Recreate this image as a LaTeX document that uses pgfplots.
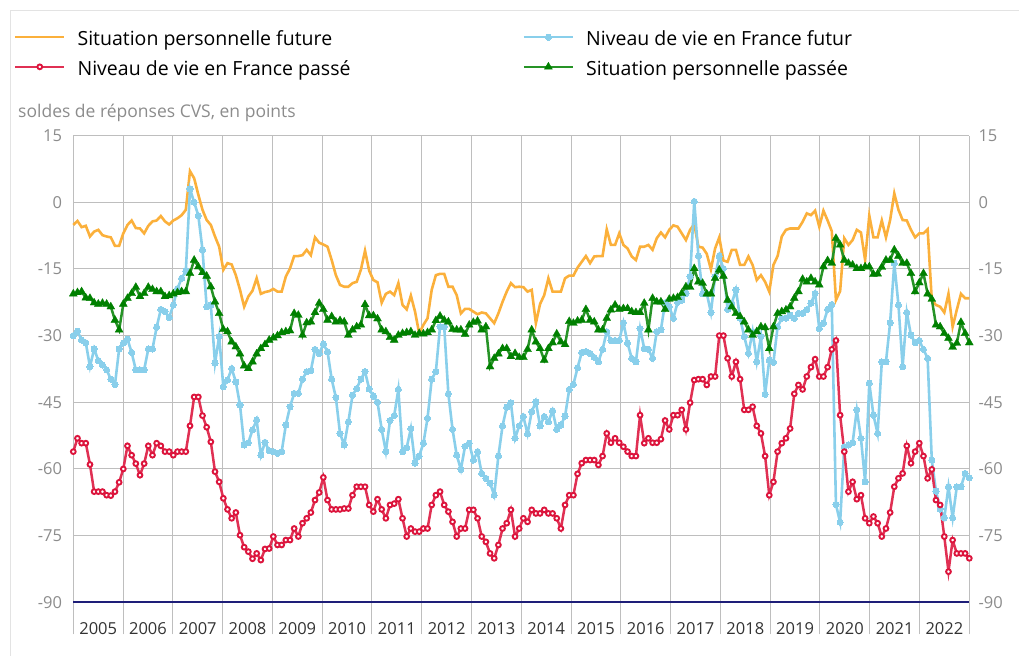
\documentclass[border=0pt]{standalone}
\usepackage{pgfplots}
\pgfplotsset{compat=1.18}
\usepackage{pgfplotstable}
\usepackage{fontspec}
\setmainfont{Open Sans}
\definecolor{corange}{RGB}{251,176,59}
\definecolor{cblue}{RGB}{137,207,235}
\definecolor{cred}{RGB}{220,20,60}
\definecolor{cgreen}{RGB}{0,128,0}
\definecolor{cnavy}{RGB}{30,30,120}
\definecolor{cgrid}{RGB}{190,190,190}
\definecolor{ctick}{RGB}{140,140,140}
\pgfplotstableread{
m O B R G
0 -5.1 -30.0 -56.1 -20.6
1 -4.2 -29.0 -53.1 -20.3
2 -5.6 -31.0 -54.2 -20.1
3 -5.3 -31.6 -54.2 -21.5
4 -7.7 -37.0 -59.0 -21.6
5 -6.6 -33.0 -65.1 -22.6
6 -6.2 -35.6 -65.1 -22.9
7 -7.4 -36.6 -65.1 -22.7
8 -7.7 -37.7 -65.9 -22.9
9 -7.9 -39.8 -66.0 -23.5
10 -9.8 -41.0 -65.1 -26.5
11 -9.8 -33.0 -63.0 -28.7
12 -7.0 -31.7 -60.0 -22.9
13 -5.1 -30.8 -54.8 -21.6
14 -4.1 -33.8 -56.9 -20.5
15 -5.8 -37.7 -58.8 -19.1
16 -5.9 -37.7 -61.4 -21.2
17 -7.0 -37.7 -58.8 -20.5
18 -5.3 -33.0 -54.8 -19.1
19 -4.3 -33.0 -56.9 -19.6
20 -4.1 -28.1 -54.2 -20.1
21 -3.1 -24.1 -54.8 -20.1
22 -4.3 -24.6 -56.1 -21.2
23 -5.0 -25.9 -56.1 -21.0
24 -4.1 -23.1 -56.9 -20.6
25 -3.6 -19.4 -56.1 -20.3
26 -2.9 -17.1 -56.1 -20.1
27 -1.7 -15.5 -56.1 -20.1
28 7.0 3.0 -50.3 -16.0
29 5.4 0.0 -43.8 -13.0
30 1.7 -3.0 -43.8 -14.5
31 -1.7 -10.7 -48.0 -15.8
32 -4.0 -23.5 -50.6 -16.6
33 -5.1 -23.1 -53.9 -19.0
34 -7.7 -36.2 -60.6 -22.4
35 -10.0 -30.2 -62.9 -25.0
36 -15.2 -41.5 -66.6 -28.6
37 -13.7 -40.0 -69.1 -29.1
38 -14.0 -37.4 -71.1 -31.4
39 -16.4 -40.4 -69.8 -32.5
40 -19.7 -45.6 -74.9 -34.1
41 -23.5 -54.6 -77.6 -36.8
42 -21.2 -54.1 -78.6 -37.4
43 -19.9 -51.2 -80.2 -35.9
44 -17.1 -49.0 -79.0 -34.1
45 -20.6 -56.9 -80.5 -32.9
46 -20.2 -54.0 -78.0 -32.0
47 -20.0 -55.9 -77.9 -31.0
48 -19.5 -56.1 -75.2 -30.5
49 -20.1 -56.5 -77.1 -30.0
50 -20.1 -56.1 -77.1 -29.3
51 -16.7 -50.1 -76.0 -29.1
52 -14.9 -46.0 -76.0 -28.9
53 -12.1 -43.0 -73.4 -25.0
54 -12.1 -43.0 -75.2 -25.4
55 -11.9 -39.8 -72.2 -29.9
56 -10.7 -38.1 -71.1 -27.1
57 -11.9 -37.9 -69.8 -26.9
58 -7.9 -33.1 -67.0 -24.8
59 -9.1 -34.0 -65.3 -22.7
60 -9.5 -31.9 -61.9 -24.1
61 -10.0 -33.6 -67.0 -26.5
62 -13.0 -39.8 -69.1 -25.7
63 -16.4 -43.9 -69.1 -26.9
64 -18.6 -52.0 -69.1 -26.6
65 -19.0 -54.6 -68.9 -26.9
66 -19.0 -49.4 -68.9 -29.9
67 -18.2 -43.4 -65.9 -28.7
68 -17.9 -41.9 -64.0 -28.0
69 -15.2 -39.8 -64.0 -27.6
70 -10.9 -38.1 -64.0 -23.0
71 -15.4 -42.0 -68.1 -25.5
72 -17.5 -43.6 -69.6 -25.5
73 -18.0 -45.0 -66.8 -26.2
74 -22.6 -51.1 -69.1 -28.7
75 -20.6 -56.1 -71.1 -29.1
76 -20.1 -49.1 -68.1 -30.4
77 -20.9 -48.0 -67.8 -31.0
78 -18.2 -42.1 -66.8 -29.9
79 -23.1 -56.1 -71.1 -29.5
80 -24.1 -55.2 -75.2 -29.3
81 -21.0 -50.9 -73.4 -29.1
82 -24.6 -58.7 -74.1 -29.9
83 -29.5 -57.1 -74.1 -29.5
84 -27.6 -54.2 -73.4 -29.6
85 -26.1 -48.6 -73.4 -29.3
86 -19.7 -39.8 -68.1 -28.7
87 -16.4 -38.1 -65.9 -26.6
88 -16.1 -28.0 -65.1 -25.6
89 -16.1 -28.0 -68.1 -26.5
90 -19.0 -43.1 -69.6 -26.9
91 -19.0 -51.1 -71.9 -28.6
92 -20.9 -56.9 -75.2 -28.7
93 -25.0 -60.1 -73.4 -28.7
94 -24.0 -54.9 -73.4 -29.7
95 -24.0 -54.2 -69.2 -27.6
96 -24.6 -58.0 -69.2 -27.0
97 -25.2 -56.1 -71.1 -26.7
98 -24.8 -61.0 -75.2 -28.7
99 -25.0 -62.1 -76.4 -28.0
100 -26.1 -63.2 -79.0 -37.0
101 -27.2 -65.9 -80.1 -35.1
102 -25.0 -57.1 -77.1 -34.1
103 -22.4 -50.3 -73.4 -32.9
104 -20.1 -46.1 -72.2 -32.9
105 -18.2 -45.1 -69.2 -34.7
106 -19.1 -53.1 -75.2 -34.0
107 -19.0 -50.3 -73.4 -34.9
108 -19.1 -48.2 -71.1 -34.9
109 -20.1 -52.1 -71.9 -33.1
110 -19.7 -47.1 -69.2 -28.7
111 -27.2 -44.9 -70.0 -31.4
112 -22.9 -50.3 -70.0 -32.9
113 -20.9 -48.2 -69.2 -35.5
114 -17.1 -49.4 -70.0 -32.9
115 -20.1 -46.9 -70.0 -31.6
116 -20.1 -51.1 -71.1 -29.6
117 -20.1 -50.1 -73.4 -31.4
118 -17.1 -48.1 -68.1 -32.0
119 -16.5 -42.1 -65.9 -26.8
120 -16.5 -41.0 -65.9 -27.2
121 -14.7 -37.2 -61.1 -26.7
122 -13.4 -33.8 -58.7 -26.5
123 -12.1 -33.6 -58.0 -24.1
124 -13.7 -34.0 -58.0 -26.5
125 -12.2 -34.9 -58.0 -26.9
126 -12.1 -35.9 -59.1 -28.7
127 -12.1 -33.1 -57.1 -28.7
128 -6.1 -29.1 -52.0 -26.1
129 -9.6 -31.1 -54.1 -24.2
130 -9.6 -31.1 -53.1 -23.1
131 -7.0 -31.1 -54.1 -24.1
132 -9.6 -27.1 -55.0 -23.9
133 -10.4 -31.7 -56.1 -23.9
134 -12.2 -35.1 -57.1 -24.6
135 -13.0 -35.9 -57.1 -24.8
136 -10.0 -28.4 -47.9 -24.8
137 -10.0 -32.9 -54.2 -22.7
138 -9.6 -33.1 -53.1 -28.7
139 -10.7 -35.1 -54.1 -21.6
140 -8.1 -29.1 -54.1 -22.4
141 -6.8 -28.7 -53.3 -22.4
142 -7.9 -22.6 -49.1 -24.1
143 -6.2 -23.5 -51.1 -21.8
144 -5.2 -26.1 -47.9 -21.6
145 -5.5 -22.5 -47.9 -21.4
146 -7.0 -22.0 -46.7 -20.5
147 -8.5 -20.5 -51.1 -19.0
148 -6.2 -16.7 -45.1 -19.1
149 -4.9 0.2 -40.0 -14.9
150 -10.0 -12.1 -39.8 -17.9
151 -10.2 -20.6 -39.8 -18.2
152 -11.6 -20.5 -41.1 -20.6
153 -15.1 -24.8 -39.2 -20.6
154 -10.4 -16.7 -39.2 -17.1
155 -7.9 -12.1 -30.0 -15.2
156 -13.1 -14.9 -30.0 -16.6
157 -13.4 -24.1 -35.1 -22.0
158 -10.7 -22.7 -39.2 -23.5
159 -10.7 -19.7 -35.9 -25.0
160 -14.1 -26.1 -39.8 -25.7
161 -14.1 -30.2 -46.7 -26.9
162 -12.2 -34.0 -46.7 -28.7
163 -14.1 -29.1 -46.0 -29.9
164 -17.5 -35.9 -50.3 -29.1
165 -16.4 -30.2 -52.0 -28.0
166 -17.9 -43.2 -57.1 -28.2
167 -20.1 -35.5 -65.9 -32.9
168 -14.1 -36.0 -62.9 -28.0
169 -12.1 -28.0 -56.1 -25.0
170 -7.7 -26.1 -54.2 -24.6
171 -6.2 -26.1 -53.1 -24.2
172 -5.9 -25.4 -50.9 -23.5
173 -5.9 -26.1 -43.1 -21.6
174 -5.9 -25.0 -41.1 -20.1
175 -4.4 -25.0 -42.1 -17.3
176 -2.5 -24.2 -39.2 -17.9
177 -2.9 -22.7 -37.1 -17.1
178 -1.9 -20.5 -35.3 -17.9
179 -5.5 -28.4 -39.2 -18.6
180 -1.9 -27.2 -39.2 -14.5
181 -4.1 -24.1 -37.1 -13.1
182 -6.5 -23.0 -33.1 -13.7
183 -22.0 -68.0 -31.1 -8.1
184 -20.0 -72.0 -47.9 -9.6
185 -8.1 -55.0 -56.1 -13.0
186 -9.6 -54.6 -65.1 -13.7
187 -8.5 -54.1 -62.9 -14.1
188 -6.2 -46.7 -66.8 -14.9
189 -6.8 -53.1 -65.9 -14.9
190 -13.0 -62.9 -71.1 -14.5
191 -3.0 -40.7 -72.2 -14.5
192 -7.9 -47.9 -70.7 -16.2
193 -7.9 -52.0 -72.2 -16.1
194 -4.1 -35.9 -75.2 -14.6
195 -7.9 -35.9 -73.4 -13.0
196 -4.0 -27.1 -69.8 -13.0
197 2.0 -13.7 -64.0 -10.7
198 -1.7 -23.1 -62.1 -12.1
199 -4.0 -37.0 -61.0 -13.7
200 -4.1 -24.8 -54.8 -13.7
201 -6.2 -29.9 -58.7 -16.0
202 -7.9 -31.6 -56.1 -20.1
203 -7.0 -31.1 -54.2 -18.1
204 -7.0 -33.1 -57.1 -16.0
205 -6.1 -35.1 -62.1 -20.6
206 -22.0 -58.0 -60.1 -21.8
207 -23.1 -65.0 -67.0 -27.6
208 -23.5 -69.0 -68.1 -28.0
209 -24.8 -71.0 -75.2 -29.5
210 -20.6 -64.0 -83.1 -30.6
211 -28.0 -71.0 -76.0 -32.6
212 -24.2 -64.0 -79.0 -31.7
213 -20.6 -64.0 -79.0 -27.0
214 -21.6 -61.0 -79.0 -29.5
215 -21.6 -62.0 -80.1 -31.6
}\data
\newcommand{\lgA}[1]{\hspace{12pt}\makebox[445pt][l]{\vphantom{Élpf}#1}}
\newcommand{\lgB}[1]{\hspace{12pt}\vphantom{Élpf}#1}
\begin{document}
\begin{tikzpicture}[x=1pt,y=1pt]
\useasboundingbox (0,0) rectangle (1019,656);
\draw[gray!22, line width=1.5pt] (10.5,0) -- (10.5,645.5) -- (1019,645.5);
\node[anchor=base west, text=ctick, font=\fontsize{17.5}{21}\selectfont, inner sep=0pt] at (18,538) {soldes de réponses CVS, en points};
\begin{axis}[
  at={(73.3pt,53.7pt)}, anchor=south west, scale only axis,
  width=896pt, height=466.7pt,
  xmin=0, xmax=215, ymin=-90, ymax=15,
  clip=false,
  axis line style={draw=none},
  ytick={-90,-75,-60,-45,-30,-15,0,15},
  yticklabels={-90,-75,-60,-45,-30,-15,0,15},
  ytick pos=left,
  ymajorgrids, major grid style={cgrid, line width=1pt},
  xtick={5.9722,17.9167,29.8611,41.8056,53.75,65.6944,77.6389,89.5833,101.5278,113.4722,125.4167,137.3611,149.3056,161.25,173.1944,185.1389,197.0833,209.0278},
  xticklabels={2005,2006,2007,2008,2009,2010,2011,2012,2013,2014,2015,2016,2017,2018,2019,2020,2021,2022},
  minor xtick={0,11.9444,23.8889,35.8333,47.7778,59.7222,71.6667,83.6111,95.5556,107.5,119.4444,131.3889,143.3333,155.2778,167.2222,179.1667,191.1111,203.0556,215},
  xminorgrids, minor grid style={cgrid, line width=1pt},
  xtick pos=bottom, tick align=outside,
  major tick length=0pt, minor tick length=32pt,
  minor tick style={cgrid, line width=1pt},
  yticklabel style={font=\fontsize{16.5}{20}\selectfont, text=ctick, inner sep=0pt, xshift=-11pt},
  xticklabel style={font=\fontsize{16.5}{20}\selectfont, text=black!80, inner sep=0pt, anchor=center, yshift=-26pt},
  legend columns=2,
  legend style={at={(-0.0662,1.1791)}, anchor=west, draw=none, fill=none, inner sep=0pt, outer sep=0pt, row sep=10pt,
    nodes={inner sep=0pt, outer sep=0pt}, font=\fontsize{19.5}{23}\selectfont, column sep=0pt},
  legend cell align=left,
  legend image code/.code={\draw[#1, mark indices={2}] plot coordinates {(0pt,0pt) (24.5pt,0pt) (49pt,0pt)};},
]
\addplot[corange, line width=2.6pt, no marks] table[x=m, y=O] {\data};
\addlegendentry{\lgA{Situation personnelle future}}
\addplot[cblue, line width=2.6pt, mark=*, mark size=3.1pt, mark options={fill=cblue, draw=cblue, line width=0pt}] table[x=m, y=B] {\data};
\addlegendentry{\lgB{Niveau de vie en France futur}}
\addplot[cred!88!white, line width=2.5pt, mark=*, mark size=2.4pt, mark options={fill=white, draw=cred, line width=1.9pt}] table[x=m, y=R] {\data};
\addlegendentry{\lgA{Niveau de vie en France passé}}
\addplot[cgreen!85!white, line width=2.5pt, mark=triangle*, mark size=4.6pt, mark options={fill=cgreen, draw=cgreen, line width=0.3pt}] table[x=m, y=G] {\data};
\addlegendentry{\lgB{Situation personnelle passée}}
\draw[cnavy, line width=2pt] (axis cs:0,-90) -- (axis cs:215,-90);
\end{axis}
\begin{axis}[
  at={(73.3pt,53.7pt)}, anchor=south west, scale only axis,
  width=896pt, height=466.7pt,
  xmin=0, xmax=215, ymin=-90, ymax=15,
  hide x axis, axis line style={draw=none},
  ytick={-90,-75,-60,-45,-30,-15,0,15},
  yticklabels={-90,-75,-60,-45,-30,-15,0,15},
  ytick pos=right, yticklabel pos=right, major tick length=0pt,
  yticklabel style={font=\fontsize{16.5}{20}\selectfont, text=ctick, inner sep=0pt, xshift=9pt, anchor=west},
]
\end{axis}
\end{tikzpicture}
\end{document}
